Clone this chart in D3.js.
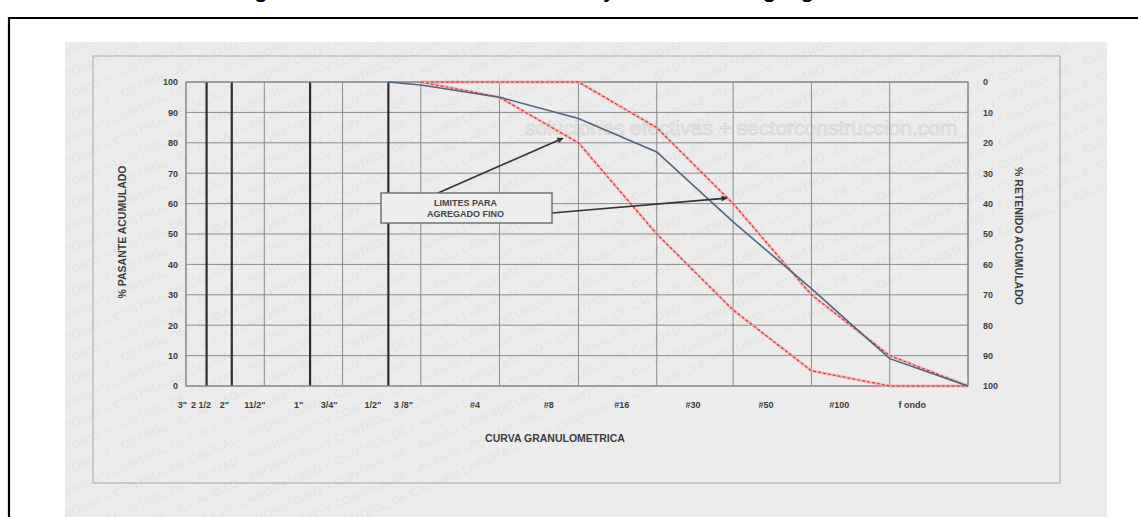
<!DOCTYPE html>
<html>
<head>
<meta charset="utf-8">
<script src="https://cdn.jsdelivr.net/npm/d3@7"></script>
<style>
  body { margin: 0; background: #fff; }
  svg { display: block; font-family: "Liberation Sans", Arial, sans-serif; }
</style>
</head>
<body>
<script>
// sieves along the x axis (opening in mm, "f ondo" = pan)
let sieveLabels = ['3"', '2 1/2', '2"', '11/2"', '1"', '3/4"', '1/2"', '3 /8"', '#4', '#8', '#16', '#30', '#50', '#100', 'f ondo'];
let sieveOpenings = [76.2, 63.5, 50.8, 38.1, 25.4, 19.05, 12.7, 9.525, 4.75, 2.36, 1.18, 0.6, 0.3, 0.15, 0.075];
let heavySieves = ['2 1/2', '2"', '1"', '1/2"'];

let passingTicks = [0, 10, 20, 30, 40, 50, 60, 70, 80, 90, 100];
let retainedTicks = [0, 10, 20, 30, 40, 50, 60, 70, 80, 90, 100];

// sample curve (% passing)
let sampleSieves = ['1/2"', '3 /8"', '#4', '#8', '#16', '#30', '#50', '#100', 'f ondo'];
let samplePassing = [100, 99, 95, 88, 77, 54, 32, 9, 0];

// limits for fine aggregate
let limitSieves = ['3 /8"', '#4', '#8', '#16', '#30', '#50', '#100', 'f ondo'];
let upperLimit = [100, 100, 100, 85, 60, 30, 10, 0];
let lowerLimit = [100, 95, 80, 50, 25, 5, 0, 0];

let noteLines = ['LIMITES PARA', 'AGREGADO FINO'];
// arrow targets on the limit curves: [opening mm, % passing]
let noteTargets = [[2.71, 81.5], [0.634, 61.8]];

let width = 1138, height = 517;
let plot = { left: 186, right: 968, top: 82, bottom: 386 };

let opening = {};
sieveLabels.forEach(function (s, i) { opening[s] = sieveOpenings[i]; });

let x = d3.scaleLog()
    .domain([76.2, 0.075])
    .range([plot.left, plot.right]);

let y = d3.scaleLinear()
    .domain([0, 100])
    .range([plot.bottom, plot.top]);

let yRet = d3.scaleLinear()
    .domain([0, 100])
    .range([plot.top, plot.bottom]);

let svg = d3.select("body")
    .append("svg")
    .attr("width", width)
    .attr("height", height);

let defs = svg.append("defs");
defs.append("clipPath").attr("id", "scan")
    .append("rect").attr("x", 65).attr("y", 42).attr("width", 1042).attr("height", 480);
defs.append("marker")
    .attr("id", "arrow")
    .attr("viewBox", "0 0 10 10")
    .attr("refX", 9).attr("refY", 5)
    .attr("markerWidth", 7).attr("markerHeight", 6)
    .attr("markerUnits", "userSpaceOnUse")
    .attr("orient", "auto")
    .append("path")
    .attr("d", "M0,0 L10,5 L0,10 z")
    .attr("fill", "#333");

// page title, cut off by the top of the picture (only descenders show)
svg.append("text")
    .attr("x", 232)
    .attr("y", -3)
    .attr("font-size", 26)
    .attr("fill", "#000")
    .text("Figura 3: Curva Granulométrica y límites del agregado fino");

// page frame
svg.append("path")
    .attr("d", "M9," + height + " V18 H" + width)
    .attr("fill", "none")
    .attr("stroke", "#000")
    .attr("stroke-width", 2.2);

// scanned sheet
let scan = svg.append("g").attr("clip-path", "url(#scan)");
scan.append("rect")
    .attr("x", 65).attr("y", 42).attr("width", 1042).attr("height", 480)
    .attr("fill", "#ececec");

// watermark
let mark = scan.append("g")
    .attr("fill", "#000")
    .attr("fill-opacity", 0.04)
    .attr("font-size", 12)
    .attr("font-weight", "bold");
d3.range(-14, 36).forEach(function (r) {
    mark.append("text")
        .attr("transform", "translate(" + (-200) + "," + (r * 22) + ") rotate(-24)")
        .text(d3.range(10).map(function () { return "LABORATORIO Y CONTROL DE CALIDAD"; }).join("  "));
});
scan.append("text")
    .attr("x", 525).attr("y", 135)
    .attr("font-size", 21)
    .attr("fill", "none")
    .attr("stroke", "#d2d2d2")
    .attr("stroke-width", 0.7)
    .text("soluciones efectivas + sectorconstruccion.com");

// sheet inner frame
scan.append("rect")
    .attr("x", 93).attr("y", 56).attr("width", 967).attr("height", 427)
    .attr("fill", "none")
    .attr("stroke", "#a8a8a8")
    .attr("stroke-width", 1);

let chart = svg.append("g");

// horizontal grid
chart.append("g")
    .selectAll("line")
    .data(passingTicks)
    .enter()
    .append("line")
    .attr("x1", plot.left).attr("x2", plot.right)
    .attr("y1", function (d) { return y(d); })
    .attr("y2", function (d) { return y(d); })
    .attr("stroke", "#8c8c8c")
    .attr("stroke-width", 1);

// vertical grid at each sieve
chart.append("g")
    .selectAll("line")
    .data(sieveLabels)
    .enter()
    .append("line")
    .attr("x1", function (d) { return x(opening[d]); })
    .attr("x2", function (d) { return x(opening[d]); })
    .attr("y1", plot.top).attr("y2", plot.bottom)
    .attr("stroke", function (d) { return heavySieves.indexOf(d) >= 0 ? "#2e2e2e" : "#8c8c8c"; })
    .attr("stroke-width", function (d) { return heavySieves.indexOf(d) >= 0 ? 2.2 : 1; });

chart.append("rect")
    .attr("x", plot.left).attr("y", plot.top)
    .attr("width", plot.right - plot.left).attr("height", plot.bottom - plot.top)
    .attr("fill", "none")
    .attr("stroke", "#8c8c8c")
    .attr("stroke-width", 1.2);

// axes
let leftAxis = d3.axisLeft(y).tickValues(passingTicks).tickSize(0).tickPadding(8);
let rightAxis = d3.axisRight(yRet).tickValues(retainedTicks).tickSize(0).tickPadding(15);
let bottomAxis = d3.axisBottom(x).tickValues(sieveOpenings).tickSize(0).tickPadding(16)
    .tickFormat(function (d, i) { return sieveLabels[i]; });

function styleAxis(g) {
    g.select(".domain").remove();
    g.selectAll("text")
        .attr("font-size", 9)
        .attr("font-weight", "bold")
        .attr("fill", "#3c3c3c")
        .attr("font-family", "Liberation Sans, Arial, sans-serif");
}

chart.append("g")
    .attr("transform", "translate(" + plot.left + ",0)")
    .call(leftAxis)
    .call(styleAxis);

chart.append("g")
    .attr("transform", "translate(" + (plot.right) + ",0)")
    .call(rightAxis)
    .call(styleAxis);

chart.append("g")
    .attr("transform", "translate(0," + plot.bottom + ")")
    .call(bottomAxis)
    .call(styleAxis)
    .selectAll(".tick text")
    // the labels sit a little to the left of their line, more so for the fine sieves
    .attr("dx", function (d, i) { return i < 8 ? -(4 + 2 * i) : -(25 + 5.2 * (i - 8)); });

// axis titles
function title(txt, tx, ty, rot) {
    chart.append("text")
        .attr("transform", "translate(" + tx + "," + ty + ") rotate(" + rot + ")")
        .attr("text-anchor", "middle")
        .attr("dominant-baseline", "middle")
        .attr("font-size", 10.5)
        .attr("font-weight", "bold")
        .attr("fill", "#3c3c3c")
        .text(txt);
}
title("% PASANTE ACUMULADO", 123, 232, -90);
title("% RETENIDO ACUMULADO", 1018, 236, 90);
title("CURVA GRANULOMETRICA", 555, 439, 0);

// curves
let line = d3.line()
    .x(function (d) { return x(opening[d[0]]); })
    .y(function (d) { return y(d[1]); });

function pairs(keys, vals) { return keys.map(function (k, i) { return [k, vals[i]]; }); }

[upperLimit, lowerLimit].forEach(function (lim) {
    chart.append("path")
        .datum(pairs(limitSieves, lim))
        .attr("d", line)
        .attr("fill", "none")
        .attr("stroke", "#f2a9a9")
        .attr("stroke-opacity", 0.7)
        .attr("stroke-width", 3);
    chart.append("path")
        .datum(pairs(limitSieves, lim))
        .attr("d", line)
        .attr("fill", "none")
        .attr("stroke", "#e0262b")
        .attr("stroke-width", 1.1)
        .attr("stroke-dasharray", "3,2");
});

chart.append("path")
    .datum(pairs(sampleSieves, samplePassing))
    .attr("d", line)
    .attr("fill", "none")
    .attr("stroke", "#4d6580")
    .attr("stroke-width", 1.6);

// note box with arrows
let box = { x: 381, y: 193, w: 171, h: 30 };
let starts = [[box.x + 57, box.y], [box.x + box.w, box.y + 20]];

chart.selectAll(".arrow")
    .data(noteTargets)
    .enter()
    .append("line")
    .attr("class", "arrow")
    .attr("x1", function (d, i) { return starts[i][0]; })
    .attr("y1", function (d, i) { return starts[i][1]; })
    .attr("x2", function (d) { return x(d[0]); })
    .attr("y2", function (d) { return y(d[1]); })
    .attr("stroke", "#333")
    .attr("stroke-width", 1.6)
    .attr("marker-end", "url(#arrow)");

chart.append("rect")
    .attr("x", box.x).attr("y", box.y)
    .attr("width", box.w).attr("height", box.h)
    .attr("fill", "#eeeeee")
    .attr("stroke", "#6a6a6a")
    .attr("stroke-width", 1.4);

chart.append("g")
    .selectAll("text")
    .data(noteLines)
    .enter()
    .append("text")
    .attr("x", box.x + box.w / 2 - 1)
    .attr("y", function (d, i) { return box.y + 13 + i * 11; })
    .attr("text-anchor", "middle")
    .attr("font-size", 9)
    .attr("font-weight", "bold")
    .attr("fill", "#444")
    .text(function (d) { return d; });
</script>
</body>
</html>
